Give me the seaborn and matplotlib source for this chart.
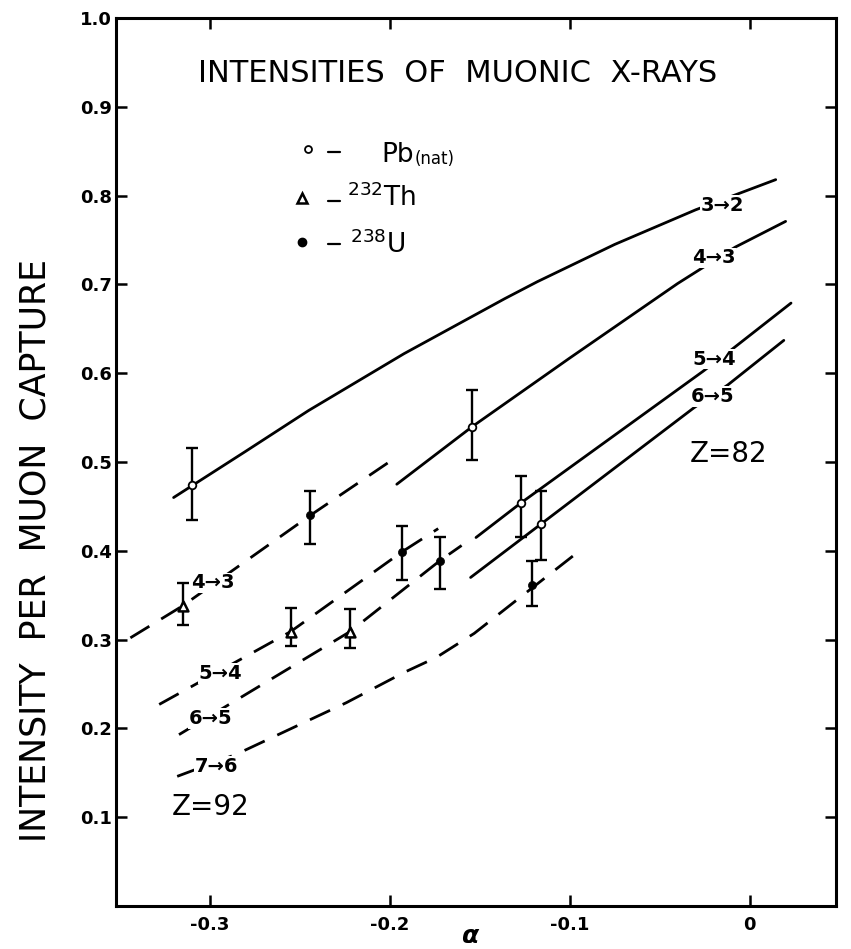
import numpy as np
import pandas as pd
import matplotlib
matplotlib.use("Agg")
import matplotlib.pyplot as plt
import seaborn as sns

# ---------------- data ----------------
# Z = 82 theoretical curves (solid)
a32_z82 = [-0.320, -0.280, -0.245, -0.192, -0.136, -0.118, -0.075, -0.030, 0.0145]
i32_z82 = [0.460, 0.512, 0.558, 0.622, 0.684, 0.703, 0.745, 0.784, 0.818]
a43_z82 = [-0.196, -0.154, -0.100, -0.040, -0.008, 0.020]
i43_z82 = [0.475, 0.540, 0.617, 0.701, 0.742, 0.771]
a54_z82 = [-0.152, -0.127, -0.026, -0.011, 0.023]
i54_z82 = [0.415, 0.454, 0.602, 0.625, 0.679]
a65_z82 = [-0.155, -0.116, -0.031, -0.012, 0.019]
i65_z82 = [0.370, 0.430, 0.561, 0.587, 0.637]

# Z = 92 theoretical curves (dashed)
a43_z92 = [-0.344, -0.315, -0.244, -0.201]
i43_z92 = [0.302, 0.338, 0.440, 0.499]
a54_z92 = [-0.328, -0.255, -0.193, -0.173]
i54_z92 = [0.227, 0.309, 0.399, 0.425]
a65_z92 = [-0.317, -0.222, -0.172, -0.160]
i65_z92 = [0.193, 0.309, 0.389, 0.406]
a76_z92 = [-0.318, -0.285, -0.224, -0.192, -0.174, -0.153, -0.131, -0.097]
i76_z92 = [0.146, 0.171, 0.229, 0.263, 0.280, 0.307, 0.342, 0.396]

# measured points
pb_alpha = [-0.310, -0.154, -0.127, -0.116]
pb_int = [0.474, 0.540, 0.454, 0.430]
pb_lo = [0.435, 0.502, 0.416, 0.390]
pb_hi = [0.516, 0.581, 0.484, 0.467]

th_alpha = [-0.315, -0.255, -0.222]
th_int = [0.338, 0.309, 0.309]
th_lo = [0.317, 0.293, 0.290]
th_hi = [0.364, 0.336, 0.335]

u_alpha = [-0.244, -0.193, -0.172, -0.121]
u_int = [0.440, 0.399, 0.389, 0.362]
u_lo = [0.408, 0.367, 0.357, 0.338]
u_hi = [0.467, 0.428, 0.416, 0.389]

# curve labels
z82_labels = ["3→2", "4→3", "5→4", "6→5"]
z82_lab_a = [-0.015, -0.020, -0.0196, -0.0207]
z82_lab_i = [0.789, 0.730, 0.616, 0.574]
z92_labels = ["4→3", "5→4", "6→5", "7→6"]
z92_lab_a = [-0.298, -0.294, -0.2994, -0.296]
z92_lab_i = [0.364, 0.262, 0.211, 0.157]

x_ticks = [-0.3, -0.2, -0.1, 0.0]
x_tick_labels = ["-0.3", "-0.2", "-0.1", "0"]
y_ticks = [0.1, 0.2, 0.3, 0.4, 0.5, 0.6, 0.7, 0.8, 0.9, 1.0]
y_tick_labels = ["0.1", "0.2", "0.3", "0.4", "0.5", "0.6", "0.7", "0.8", "0.9", "1.0"]

legend_names = ["Pb", r"$^{232}$Th", r"$^{238}$U"]

# --------------- style ----------------
sns.set_style("ticks", {"text.color": "black", "xtick.color": "black",
                        "ytick.color": "black", "axes.edgecolor": "black",
                        "axes.labelcolor": "black"})
plt.rcParams['font.family'] = ['DejaVu Sans']
plt.rcParams['axes.unicode_minus'] = False
plt.rcParams['mathtext.default'] = 'regular'
plt.rcParams['text.color'] = 'black'

fig = plt.figure(figsize=(8.51, 9.49), dpi=100)
ax = fig.add_axes([0.1363, 0.0453, 0.8461, 0.9357])

LW = 2.0
curves_z82 = [(a32_z82, i32_z82), (a43_z82, i43_z82), (a54_z82, i54_z82), (a65_z82, i65_z82)]
curves_z92 = [(a43_z92, i43_z92), (a54_z92, i54_z92), (a65_z92, i65_z92), (a76_z92, i76_z92)]

for a, i in curves_z82:
    sns.lineplot(x=a, y=i, ax=ax, color='black', lw=LW, sort=False, estimator=None, zorder=2)
for a, i in curves_z92:
    sns.lineplot(x=a, y=i, ax=ax, color='black', lw=LW, sort=False, estimator=None,
                 zorder=2).lines[-1].set_dashes((8, 5))

# error bars
for xa, yi, lo, hi in [(pb_alpha, pb_int, pb_lo, pb_hi),
                       (th_alpha, th_int, th_lo, th_hi),
                       (u_alpha, u_int, u_lo, u_hi)]:
    yi_ = np.array(yi); lo_ = np.array(lo); hi_ = np.array(hi)
    ax.errorbar(xa, yi_, yerr=[yi_ - lo_, hi_ - yi_], fmt='none', ecolor='black',
                elinewidth=1.7, capsize=4, capthick=1.7, zorder=3)

sns.scatterplot(x=pb_alpha, y=pb_int, ax=ax, marker='o', s=30, facecolor='white',
                edgecolor='black', linewidth=1.3, zorder=5)
sns.scatterplot(x=th_alpha, y=th_int, ax=ax, marker='^', s=50, facecolor='white',
                edgecolor='black', linewidth=1.8, zorder=5)
sns.scatterplot(x=u_alpha, y=u_int, ax=ax, marker='o', s=34, color='black',
                edgecolor='black', linewidth=0.5, zorder=5)

# curve labels
for txt, a, i in zip(z82_labels + z92_labels, z82_lab_a + z92_lab_a, z82_lab_i + z92_lab_i):
    ax.text(a, i, txt, ha='center', va='center', fontsize=14, fontweight='bold',
            color='black',
            bbox=dict(facecolor='white', edgecolor='none', pad=0.6), zorder=6)

ax.text(-0.0117, 0.509, "Z=82", ha='center', va='center', fontsize=20, color='black')
ax.text(-0.2994, 0.112, "Z=92", ha='center', va='center', fontsize=20, color='black')

# title inside axes
ax.text(0.474, 0.938, "INTENSITIES  OF  MUONIC  X-RAYS", transform=ax.transAxes,
        ha='center', va='center', fontsize=22, color='black')

# legend block
leg_marker_x = [0.2667, 0.2583, 0.2583]
leg_row_y = [0.8525, 0.797, 0.748]
ax.plot([leg_marker_x[0]], [leg_row_y[0]], marker='o', ms=5, mfc='white', mec='black',
        mew=1.3, transform=ax.transAxes, clip_on=False)
ax.plot([leg_marker_x[1]], [leg_row_y[1]], marker='^', ms=7, mfc='white', mec='black',
        mew=1.8, transform=ax.transAxes, clip_on=False)
ax.plot([leg_marker_x[2]], [leg_row_y[2]], marker='o', ms=6, mfc='black', mec='black',
        transform=ax.transAxes, clip_on=False)
for y in leg_row_y:
    ax.plot([0.2945, 0.3115], [y - 0.003, y - 0.003], color='black', lw=1.6,
            transform=ax.transAxes, clip_on=False)
t_pb = ax.text(0.368, 0.838, legend_names[0], transform=ax.transAxes, ha='left',
               va='baseline', fontsize=19, color='black')
ax.annotate("(nat)", xy=(1.0, 0.0), xycoords=t_pb, xytext=(1, 0), textcoords='offset points',
            ha='left', va='bottom', fontsize=12, color='black')
ax.text(0.321, 0.788, legend_names[1], transform=ax.transAxes, ha='left',
        va='baseline', fontsize=19, color='black')
ax.text(0.325, 0.735, legend_names[2], transform=ax.transAxes, ha='left',
        va='baseline', fontsize=19, color='black')

# axes
ax.set_xlim(-0.352, 0.048)
ax.set_ylim(0, 1.0)
ax.set_xticks(x_ticks)
ax.set_xticklabels(x_tick_labels)
ax.set_yticks(y_ticks)
ax.set_yticklabels(y_tick_labels)
ax.tick_params(direction='in', length=8, width=1.8, top=True, right=True,
               labelsize=13, colors='black')
ax.tick_params(axis='y', pad=3)
ax.tick_params(axis='x', pad=7)
for lab in ax.get_xticklabels() + ax.get_yticklabels():
    lab.set_fontweight('bold')
for sp in ax.spines.values():
    sp.set_linewidth(2.2)
    sp.set_color('black')
ax.set_xlabel("")
ax.set_ylabel("")

fig.text(36 / 851, 1 - 550 / 949, "INTENSITY  PER  MUON  CAPTURE", rotation=90,
         ha='center', va='center', fontsize=25, color='black')
fig.text(470 / 851, 1 - 936 / 949, "α", ha='center', va='center', fontsize=18,
         fontweight='bold', style='italic', color='black')

fig.savefig("out.png", dpi=100, facecolor='white')
